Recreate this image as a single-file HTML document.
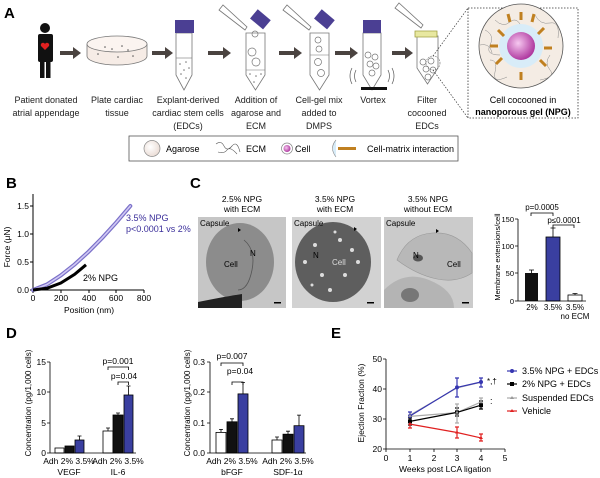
<!DOCTYPE html>
<html><head><meta charset="utf-8"><style>
html,body{margin:0;padding:0;background:#fff;}
svg{display:block;font-family:"Liberation Sans",sans-serif;}
</style></head><body>
<svg width="600" height="478" viewBox="0 0 600 478" xmlns="http://www.w3.org/2000/svg">
<defs>
<radialGradient id="pk" cx="0.4" cy="0.4" r="0.6"><stop offset="0" stop-color="#f6c8f0"/><stop offset="1" stop-color="#b03aa0"/></radialGradient>
<radialGradient id="ag" cx="0.4" cy="0.4" r="0.7"><stop offset="0" stop-color="#fff"/><stop offset="1" stop-color="#e8d8d0"/></radialGradient>
</defs>
<!-- ===== Panel A ===== -->
<text x="4" y="18" font-size="15" font-weight="bold">A</text>
<circle cx="45" cy="28" r="5" fill="#111"/>
<rect x="38" y="34" width="15" height="28" rx="2" fill="#111"/>
<rect x="40" y="61" width="4.5" height="17" fill="#111"/><rect x="46" y="61" width="4.5" height="17" fill="#111"/>
<path d="M45 50 l-4 -4 a2.2 2.2 0 0 1 4 -2 a2.2 2.2 0 0 1 4 2z" fill="#e02020"/>
<g fill="#4a4340">
<path d="M60 51h13v-4l8 6-8 6v-4h-13z"/>
<path d="M152 51h13v-4l8 6-8 6v-4h-13z"/>
<path d="M208 51h15v-4l8 6-8 6v-4h-15z"/>
<path d="M279 51h15v-4l8 6-8 6v-4h-15z"/>
<path d="M335 51h15v-4l8 6-8 6v-4h-15z"/>
<path d="M392 51h13v-4l8 6-8 6v-4h-13z"/>
</g>
<path d="M87 44v12a30 9 0 0 0 60 0v-12" fill="#f6ece6" stroke="#777" stroke-width="0.8"/>
<ellipse cx="117" cy="44" rx="30" ry="8" fill="#fbf4f0" stroke="#777" stroke-width="0.8"/>
<g fill="#555"><circle cx="105" cy="47" r="0.8"/><circle cx="112" cy="49" r="0.8"/><circle cx="122" cy="46" r="0.8"/><circle cx="128" cy="50" r="0.8"/><circle cx="98" cy="54" r="0.8"/><circle cx="118" cy="57" r="0.8"/><circle cx="133" cy="56" r="0.8"/></g>
<g stroke="#777" stroke-width="0.8" fill="#fff">
<path d="M176 33v42l8 15 8-15v-42z"/>
<path d="M246 33v42l9.5 15 9.5-15v-42z"/>
<path d="M310 33v42l9.5 15 9.5-15v-42z"/>
<path d="M363 33v42l9 15 9-15v-42z"/>
<path d="M417 36v32l10.5 16 10.5-16v-32z"/>
</g>
<g stroke="#777" stroke-width="0.6"><line x1="176" y1="58" x2="192" y2="58"/><line x1="246" y1="70" x2="265" y2="70"/><line x1="310" y1="55" x2="329" y2="55"/></g>
<g fill="#777"><circle cx="180" cy="64" r=".8"/><circle cx="186" cy="62" r=".8"/><circle cx="184" cy="70" r=".8"/><circle cx="189" cy="68" r=".8"/><circle cx="181" cy="74" r=".8"/><circle cx="186" cy="78" r=".8"/><circle cx="250" cy="74" r=".8"/><circle cx="256" cy="76" r=".8"/><circle cx="261" cy="74" r=".8"/><circle cx="254" cy="82" r=".8"/></g>
<g fill="none" stroke="#777" stroke-width="0.7"><circle cx="255" cy="34" r="3"/><circle cx="252" cy="52" r="4"/><circle cx="256" cy="62" r="4"/><circle cx="318" cy="40" r="3"/><circle cx="319" cy="49" r="3"/><circle cx="318" cy="62" r="3.5"/><circle cx="321" cy="73" r="3.5"/><circle cx="368" cy="55" r="3"/><circle cx="375" cy="57" r="3"/><circle cx="370" cy="64" r="3"/><circle cx="376" cy="66" r="3"/><circle cx="372" cy="73" r="3"/><circle cx="423" cy="62" r="3"/><circle cx="431" cy="61" r="3"/><circle cx="426" cy="69" r="3"/><circle cx="433" cy="70" r="3"/><circle cx="428" cy="77" r="3"/><circle cx="433" cy="63" r="7" stroke-dasharray="1.5 1"/></g>
<rect x="175" y="20" width="19" height="13" fill="#4b3f93"/>
<rect x="363" y="20" width="18" height="13" fill="#4b3f93"/>
<rect x="252" y="13" width="17" height="12" fill="#4b3f93" transform="rotate(40 260 19)"/>
<rect x="316" y="13" width="17" height="12" fill="#4b3f93" transform="rotate(40 324 19)"/>
<g fill="#fff" stroke="#777" stroke-width="0.8">
<path d="M219 10l4-5 24 22-2 3z"/><path d="M283 10l4-5 24 22-2 3z"/><path d="M395 8l4-5 24 22-2 3z"/>
</g>
<rect x="361" y="87" width="26" height="3" fill="#111"/>
<g fill="none" stroke="#555" stroke-width="0.7"><path d="M356 70q-3 6 0 12M352 68q-4 8 0 16M388 70q3 6 0 12M392 68q4 8 0 16"/></g>
<path d="M415 31h22v6h-22z" fill="#e8e8a0" stroke="#a0a040" stroke-width="0.8"/>
<line x1="433" y1="56" x2="468" y2="8" stroke="#333" stroke-width="0.7" stroke-dasharray="1.5 1.5"/>
<line x1="433" y1="70" x2="468" y2="118" stroke="#333" stroke-width="0.7" stroke-dasharray="1.5 1.5"/>
<rect x="468" y="8" width="110" height="110" fill="#fff" stroke="#333" stroke-width="0.8" stroke-dasharray="1.5 1.5"/>
<circle cx="521" cy="46" r="42" fill="#f4ece4" stroke="#555" stroke-width="0.8"/>
<g fill="none" stroke="#8a8a8a" stroke-width="0.5"><path d="M485 30q10 5 5 15t10 10M495 20q8 8 15 2t12 6M535 15q5 10 15 8t8 15M550 55q-6 8 0 15t-10 10M490 60q8 0 5 12t12 5M480 45q10-2 12 8"/></g>
<circle cx="521" cy="46" r="22" fill="#d8ecf8"/>
<circle cx="521" cy="46" r="14" fill="url(#pk)"/>
<g stroke="#c08020" stroke-width="3"><line x1="498" y1="30" x2="504" y2="36"/><line x1="521" y1="12" x2="521" y2="20"/><line x1="544" y1="28" x2="538" y2="34"/><line x1="552" y1="48" x2="544" y2="48"/><line x1="546" y1="66" x2="540" y2="60"/><line x1="521" y1="80" x2="521" y2="72"/><line x1="496" y1="64" x2="502" y2="58"/><line x1="490" y1="46" x2="498" y2="46"/><line x1="508" y1="14" x2="510" y2="22"/><line x1="534" y1="14" x2="532" y2="22"/></g>
<text x="523" y="103" font-size="9" text-anchor="middle">Cell cocooned in</text>
<text x="523" y="115" font-size="9" font-weight="bold" text-anchor="middle">nanoporous gel (NPG)</text>
<g font-size="9" text-anchor="middle" fill="#222">
<text x="46" y="103">Patient donated</text><text x="46" y="116">atrial appendage</text>
<text x="117" y="103">Plate cardiac</text><text x="117" y="116">tissue</text>
<text x="188" y="103">Explant-derived</text><text x="188" y="116">cardiac stem cells</text><text x="188" y="129">(EDCs)</text>
<text x="256" y="103">Addition of</text><text x="256" y="116">agarose and</text><text x="256" y="129">ECM</text>
<text x="319" y="103">Cell-gel mix</text><text x="319" y="116">added to</text><text x="319" y="129">DMPS</text>
<text x="373" y="103">Vortex</text>
<text x="427" y="103">Filter</text><text x="427" y="116">cocooned</text><text x="427" y="129">EDCs</text>
</g>
<rect x="129" y="136" width="329" height="25" fill="#fff" stroke="#555" stroke-width="0.8"/>
<circle cx="152" cy="148.5" r="8" fill="url(#ag)" stroke="#888" stroke-width="0.7"/>
<text x="166" y="152" font-size="9">Agarose</text>
<path d="M216 144q5-4 8 2t8 0 8 6M218 152q6 2 9-2t10 4" fill="none" stroke="#555" stroke-width="0.6"/>
<text x="246" y="152" font-size="9">ECM</text>
<circle cx="287" cy="148.5" r="5.5" fill="#fff" stroke="#888" stroke-width="0.7"/><circle cx="287" cy="148.5" r="3.5" fill="url(#pk)"/>
<text x="295" y="152" font-size="9">Cell</text>
<path d="M336 140q-7 8 0 17" fill="#d8ecf8" stroke="#888" stroke-width="0.6"/>
<line x1="338" y1="148.5" x2="356" y2="148.5" stroke="#c08020" stroke-width="3"/>
<text x="367" y="152" font-size="9">Cell-matrix interaction</text>

<!-- ===== Panel B ===== -->
<text x="6" y="188" font-size="15" font-weight="bold">B</text>
<g stroke="#000" stroke-width="1" fill="none">
<path d="M33 194V290H144"/>
<path d="M30 206h3M30 234h3M30 262h3M30 290h3M33 290v3M61 290v3M89 290v3M116 290v3M144 290v3"/>
</g>
<g font-size="8.5" text-anchor="end"><text x="29" y="209">1.5</text><text x="29" y="237">1.0</text><text x="29" y="265">0.5</text><text x="29" y="293">0.0</text></g>
<g font-size="8.5" text-anchor="middle"><text x="33" y="301">0</text><text x="61" y="301">200</text><text x="89" y="301">400</text><text x="116" y="301">600</text><text x="144" y="301">800</text></g>
<text x="89" y="313" font-size="8.5" text-anchor="middle">Position (nm)</text>
<text transform="translate(10 247) rotate(-90)" font-size="8.5" text-anchor="middle">Force (μN)</text>
<path d="M33 290L46.9 284.5 60.8 275.4 74.7 264.4 88.6 251.7 102.5 237.6 116.4 222.3 130.3 206" fill="none" stroke="#7a70c8" stroke-width="4" stroke-linecap="round"/>
<path d="M33 290L46.9 284.5 60.8 275.4 74.7 264.4 88.6 251.7 102.5 237.6 116.4 222.3 130.3 206" fill="none" stroke="#d0c8f4" stroke-width="1.6" stroke-linecap="round"/>
<path d="M33 290L46.9 288.3 60.8 283 74.7 274.3 86 264.8" fill="none" stroke="#000" stroke-width="3"/>
<text x="126" y="221" font-size="9" fill="#3a2e9a">3.5% NPG</text>
<text x="126" y="232" font-size="9" fill="#3a2e9a">p&lt;0.0001 vs 2%</text>
<text x="83" y="281" font-size="9">2% NPG</text>

<!-- ===== Panel C ===== -->
<text x="190" y="188" font-size="15" font-weight="bold">C</text>
<g font-size="8.5" text-anchor="middle">
<text x="242" y="202">2.5% NPG</text><text x="242" y="212">with ECM</text>
<text x="335" y="202">3.5% NPG</text><text x="335" y="212">with ECM</text>
<text x="428" y="202">3.5% NPG</text><text x="428" y="212">without ECM</text>
</g>
<rect x="198" y="217" width="88" height="91" fill="#c6c6c6"/>
<ellipse cx="240" cy="262" rx="34" ry="39" fill="#8c8c8c"/>
<path d="M244 240q12 10 8 30t-14 20" fill="none" stroke="#555" stroke-width="0.8"/>
<path d="M198 302q30-6 44-8v14h-44z" fill="#222"/>
<rect x="292" y="217" width="89" height="91" fill="#d2d2d2"/>
<ellipse cx="333" cy="262" rx="38" ry="40" fill="#5e5e5e"/>
<g fill="#ddd"><circle cx="315" cy="245" r="2"/><circle cx="340" cy="240" r="2"/><circle cx="352" cy="250" r="2"/><circle cx="322" cy="275" r="2"/><circle cx="345" cy="275" r="2"/><circle cx="305" cy="262" r="2"/><circle cx="330" cy="290" r="2"/><circle cx="358" cy="262" r="2"/><circle cx="335" cy="232" r="1.5"/><circle cx="312" cy="285" r="1.5"/></g>
<rect x="384" y="217" width="89" height="91" fill="#cbcbcb"/>
<path d="M397 260q10-25 35-27t40 20v20q-15 10-35 6t-40-19z" fill="#b8b8b8" stroke="#999" stroke-width="0.6"/>
<path d="M384 290q20-20 45-10t25 28h-70z" fill="#b4b4b4"/>
<ellipse cx="418" cy="258" rx="5" ry="3.5" fill="#555"/><ellipse cx="410" cy="295" rx="9" ry="7" fill="#777"/>
<g font-size="8">
<text x="200" y="226">Capsule</text><text x="294" y="226">Capsule</text><text x="386" y="226">Capsule</text>
<text x="224" y="267">Cell</text><text x="250" y="256">N</text>
<text x="313" y="258">N</text><text x="332" y="265" fill="#ddd">Cell</text>
<text x="413" y="258">N</text><text x="447" y="267">Cell</text>
</g>
<g fill="#000"><rect x="274" y="302" width="7" height="1.5"/><rect x="367" y="302" width="7" height="1.5"/><rect x="462" y="302" width="7" height="1.5"/>
<path d="M238 228l3 2-3 2z"/><path d="M354 227l3 2-3 2z"/><path d="M436 229l3 2-3 2z"/></g>
<rect x="525" y="273" width="13" height="28" fill="#111"/>
<rect x="546" y="237" width="14" height="64" fill="#3a3fa0" stroke="#000" stroke-width="0.8"/>
<rect x="568" y="295" width="14" height="6" fill="#fff" stroke="#000" stroke-width="0.8"/>
<g stroke="#000" stroke-width="0.8" fill="none">
<path d="M531.5 273v-3M529 270h5M553 237v-9M550.5 228h5M575 295v-1.5M572.5 293.5h5"/>
<path d="M518 219V301H586M515 219h3M515 246h3M515 273h3M515 301h3"/>
<path d="M531 216v-3h22v3M553 228v-3h21v3"/>
</g>
<g font-size="7.5" text-anchor="end"><text x="514" y="222">150</text><text x="514" y="249">100</text><text x="514" y="276">50</text><text x="514" y="304">0</text></g>
<g font-size="8" text-anchor="middle"><text x="532" y="310">2%</text><text x="553" y="310">3.5%</text><text x="575" y="310">3.5%</text><text x="575" y="319">no ECM</text>
<text x="542" y="210">p=0.0005</text><text x="564" y="223">p≤0.0001</text></g>
<text transform="translate(500 257) rotate(-90)" font-size="7.5" text-anchor="middle">Membrane extensions/cell</text>

<!-- ===== Panel D ===== -->
<text x="6" y="338" font-size="15" font-weight="bold">D</text>
<g stroke="#000" stroke-width="0.8">
<rect x="55" y="448" width="9" height="5" fill="#fff"/>
<rect x="65" y="446" width="9" height="7" fill="#111"/>
<rect x="75" y="440" width="9" height="13" fill="#3a3fa0"/>
<rect x="103" y="431" width="10" height="22" fill="#fff"/>
<rect x="113" y="415" width="10" height="38" fill="#111"/>
<rect x="124" y="395" width="9" height="58" fill="#3a3fa0"/>
</g>
<g stroke="#000" stroke-width="0.8" fill="none">
<path d="M79.5 440v-4M77.5 436h4M108 431v-3M106 428h4M118 415v-2M116 413h4M128.5 395v-9M126.5 386h4"/>
<path d="M50 362V453H136M47 362h3M47 392h3M47 423h3M47 453h3"/>
<path d="M108 370v-3h20.5v3M118 385v-3h10.5v3"/>
</g>
<g font-size="8.5" text-anchor="end"><text x="46" y="365">15</text><text x="46" y="395">10</text><text x="46" y="426">5</text><text x="46" y="456">0</text></g>
<g font-size="8.5" text-anchor="middle"><text x="69" y="464">Adh 2% 3.5%</text><text x="118" y="464">Adh 2% 3.5%</text><text x="69" y="475">VEGF</text><text x="118" y="475">IL-6</text>
<text x="118" y="364">p=0.001</text><text x="124" y="379">p=0.04</text></g>
<text transform="translate(31 403) rotate(-90)" font-size="8" text-anchor="middle">Concentration (pg/1,000 cells)</text>
<g stroke="#000" stroke-width="0.8">
<rect x="216" y="432.4" width="10" height="20.6" fill="#fff"/>
<rect x="227" y="421.8" width="10" height="31.2" fill="#111"/>
<rect x="238" y="393.9" width="10" height="59.1" fill="#3a3fa0"/>
<rect x="272" y="440" width="10" height="13" fill="#fff"/>
<rect x="283" y="434.2" width="10" height="18.8" fill="#111"/>
<rect x="294" y="425.7" width="10" height="27.3" fill="#3a3fa0"/>
</g>
<g stroke="#000" stroke-width="0.8" fill="none">
<path d="M221 432.4v-3M219 429.4h4M232 421.8v-3M230 418.8h4M243 393.9v-11.5M241 382.4h4M277 440v-3M275 437h4M288 434.2v-3M286 431.2h4M299 425.7v-10.6M297 415.1h4"/>
<path d="M210 362V453H306M207 362h3M207 392h3M207 423h3M207 453h3"/>
<path d="M221 366v-3h22v3M232 385v-3h11v3"/>
</g>
<g font-size="8.5" text-anchor="end"><text x="205" y="365">0.3</text><text x="205" y="395">0.2</text><text x="205" y="426">0.1</text><text x="205" y="456">0.0</text></g>
<g font-size="8.5" text-anchor="middle"><text x="232" y="464">Adh 2% 3.5%</text><text x="288" y="464">Adh 2% 3.5%</text><text x="232" y="475">bFGF</text><text x="288" y="475">SDF-1α</text>
<text x="232" y="359">p=0.007</text><text x="240" y="374">p=0.04</text></g>
<text transform="translate(190 403) rotate(-90)" font-size="8" text-anchor="middle">Concentration (pg/1,000 cells)</text>

<!-- ===== Panel E ===== -->
<text x="331" y="338" font-size="15" font-weight="bold">E</text>
<g stroke="#000" stroke-width="0.8" fill="none">
<path d="M386 359V449H505M383 359h3M383 389h3M383 419h3M383 449h3M386 449v3M410 449v3M434 449v3M457 449v3M481 449v3M505 449v3"/>
</g>
<g font-size="8.5" text-anchor="end"><text x="382" y="362">50</text><text x="382" y="392">40</text><text x="382" y="422">30</text><text x="382" y="452">20</text></g>
<g font-size="8.5" text-anchor="middle"><text x="386" y="461">0</text><text x="410" y="461">1</text><text x="434" y="461">2</text><text x="457" y="461">3</text><text x="481" y="461">4</text><text x="505" y="461">5</text>
<text x="445" y="472">Weeks post LCA ligation</text></g>
<text transform="translate(364 403) rotate(-90)" font-size="8.5" text-anchor="middle">Ejection Fraction (%)</text>
<g fill="none" stroke-width="1.2">
<path d="M410 415.1L457 387.9 481 382.2" stroke="#aaa"/>
<path d="M410 416.4L457 412.6 481 402" stroke="#aaa"/>
<path d="M410 421.4L457 412.4 481 405.2" stroke="#000"/>
<path d="M410 424.1L457 432.5 481 437.9" stroke="#e02020"/>
<path d="M410 416L457 387.4 481 382" stroke="#3535b0"/>
</g>
<g stroke-width="1.2" fill="none">
<path d="M410 412v8M408 412h4M408 420h4M457 378v19M455 378h4M455 397h4M481 378v9M479 378h4M479 387h4" stroke="#3535b0"/>
<path d="M410 418v7M408 418h4M408 425h4M457 408v8M455 408h4M455 416h4M481 401v8M479 401h4M479 409h4" stroke="#000"/>
<path d="M457 404v19M455 404h4M455 423h4M481 398v8M479 398h4" stroke="#aaa"/>
<path d="M410 421v7M408 428h4M457 427v11M455 427h4M455 438h4M481 434v7M479 434h4M479 441h4" stroke="#e02020"/>
</g>
<g><circle cx="410" cy="416" r="2" fill="#3535b0"/><circle cx="457" cy="387.4" r="2" fill="#3535b0"/><circle cx="481" cy="382" r="2" fill="#3535b0"/>
<rect x="408" y="419.4" width="4" height="4" fill="#000"/><rect x="455" y="410.4" width="4" height="4" fill="#000"/><rect x="479" y="403.2" width="4" height="4" fill="#000"/>
<path d="M410 414l2 3h-4zM457 410.6l2 3h-4zM481 400l2 3h-4z" fill="#999"/>
<path d="M410 422l2 3h-4zM457 430.5l2 3h-4zM481 436l2 3h-4z" fill="#e02020"/></g>
<text x="487" y="384" font-size="8">*,†</text>
<text x="490" y="404" font-size="9">:</text>
<g stroke-width="1.2"><line x1="507" y1="371" x2="517" y2="371" stroke="#3535b0"/><line x1="507" y1="384" x2="517" y2="384" stroke="#000"/><line x1="507" y1="398" x2="517" y2="398" stroke="#aaa"/><line x1="507" y1="411" x2="517" y2="411" stroke="#e02020"/></g>
<circle cx="512" cy="371" r="2" fill="#3535b0"/><rect x="510" y="382" width="4" height="4"/><path d="M512 396l2 3h-4z" fill="#999"/><path d="M512 409l2 3h-4z" fill="#e02020"/>
<g font-size="9"><text x="522" y="374">3.5% NPG + EDCs</text><text x="522" y="387">2% NPG + EDCs</text><text x="522" y="401">Suspended EDCs</text><text x="522" y="414">Vehicle</text></g>
</svg>
</body></html>
